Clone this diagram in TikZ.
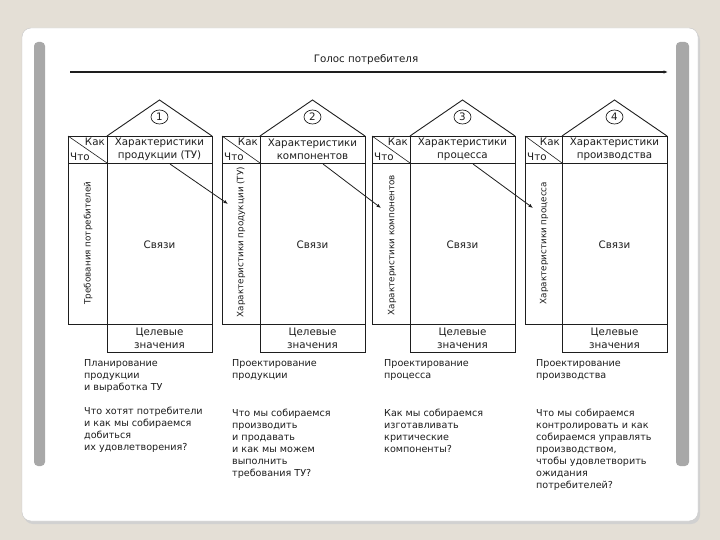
\documentclass[tikz,border=0pt]{standalone}
\usepackage{fontspec}
\setmainfont{DejaVu Sans}
\usetikzlibrary{arrows.meta}

\definecolor{slidebg}{RGB}{228,223,214}
\definecolor{barGray}{RGB}{168,168,168}
\definecolor{ink}{RGB}{30,30,30}

\tikzset{
  wall/.style={draw=ink, line width=0.9pt},
  lbl/.style={font=\fontsize{10.3}{12.8}\selectfont, text=ink, inner sep=0pt, align=center},
  vlbl/.style={lbl, font=\fontsize{8.8}{11}\selectfont, rotate=90},
  note/.style={font=\fontsize{9.6}{12}\selectfont, text=ink, inner sep=0pt, align=left, anchor=north west},
  flow/.style={draw=ink, line width=0.8pt, -{Latex[length=4.5pt,width=3.5pt]}}
}

\begin{document}
\begin{tikzpicture}[x=1pt,y=-1pt]

   % slide
   \fill [slidebg] (0,0) rectangle (720,540);
   \useasboundingbox (0,0) rectangle (720,540);
   \fill [black!18, rounded corners=9pt] (24,31) rectangle (700,524);
   \draw [black!22, fill=white, rounded corners=9pt] (22,28) rectangle (698,521);
   \fill [barGray, rounded corners=4pt] (34,42) rectangle (45,466);
   \fill [barGray, rounded corners=4pt] (676,42) rectangle (689,466);

   % voice of the customer
   \node [lbl] (voice) at (366,60) {Голос потребителя};
   \coordinate (vstart) at (70,72);
   \coordinate (vend) at (668,72);
   \draw [flow, line width=1.1pt] (vstart) -- (vend);

   % house 1
   \draw [wall] (68,136) rectangle (107,324);
   \draw [wall] (107,136) rectangle (212,324);
   \draw [wall] (107,324) rectangle (212,352);
   \draw [wall] (107,136) -- (159.5,100) -- (212,136);
   \draw [wall] (68,163) -- (212,163);
   \draw [ink, line width=0.6pt] (68,136) -- (107,163);
   \draw [ink, line width=0.7pt] (159.5,117) ellipse (8.5 and 7);
   \node [lbl] (num1) at (159.5,117) {1};
   \node [lbl, anchor=north east] (how1) at (105,138) {Как};
   \node [lbl, anchor=south west] (what1) at (70,161) {Что};
   \node [lbl] (hd1) at (159.5,149.5) {Характеристики\\продукции (ТУ)};
   \node [vlbl] (vt1) at (88,243) {Требования потребителей};
   \node [lbl] (rel1) at (159.5,245) {Связи};
   \node [lbl] (tgt1) at (159.5,338) {Целевые\\значения};

   % house 2
   \draw [wall] (222,136) rectangle (260,324);
   \draw [wall] (260,136) rectangle (365,324);
   \draw [wall] (260,324) rectangle (365,352);
   \draw [wall] (260,136) -- (312.5,100) -- (365,136);
   \draw [wall] (222,163) -- (365,163);
   \draw [ink, line width=0.6pt] (222,136) -- (260,163);
   \draw [ink, line width=0.7pt] (312.5,117) ellipse (8.5 and 7);
   \node [lbl] (num2) at (312.5,117) {2};
   \node [lbl, anchor=north east] (how2) at (258,138) {Как};
   \node [lbl, anchor=south west] (what2) at (224,161) {Что};
   \node [lbl] (hd2) at (312.5,149.5) {Характеристики\\компонентов};
   \node [vlbl] (vt2) at (241,242) {Характеристики продукции (ТУ)};
   \node [lbl] (rel2) at (312.5,245) {Связи};
   \node [lbl] (tgt2) at (312.5,338) {Целевые\\значения};

   % house 3
   \draw [wall] (372,136) rectangle (410,324);
   \draw [wall] (410,136) rectangle (515,324);
   \draw [wall] (410,324) rectangle (515,352);
   \draw [wall] (410,136) -- (462.5,100) -- (515,136);
   \draw [wall] (372,163) -- (515,163);
   \draw [ink, line width=0.6pt] (372,136) -- (410,163);
   \draw [ink, line width=0.7pt] (462.5,117) ellipse (8.5 and 7);
   \node [lbl] (num3) at (462.5,117) {3};
   \node [lbl, anchor=north east] (how3) at (408,138) {Как};
   \node [lbl, anchor=south west] (what3) at (374,161) {Что};
   \node [lbl] (hd3) at (462.5,149.5) {Характеристики\\процесса};
   \node [vlbl] (vt3) at (392,245) {Характеристики компонентов};
   \node [lbl] (rel3) at (462.5,245) {Связи};
   \node [lbl] (tgt3) at (462.5,338) {Целевые\\значения};

   % house 4
   \draw [wall] (525,136) rectangle (562,324);
   \draw [wall] (562,136) rectangle (667,324);
   \draw [wall] (562,324) rectangle (667,352);
   \draw [wall] (562,136) -- (614.5,100) -- (667,136);
   \draw [wall] (525,163) -- (667,163);
   \draw [ink, line width=0.6pt] (525,136) -- (562,163);
   \draw [ink, line width=0.7pt] (614.5,117) ellipse (8.5 and 7);
   \node [lbl] (num4) at (614.5,117) {4};
   \node [lbl, anchor=north east] (how4) at (560,138) {Как};
   \node [lbl, anchor=south west] (what4) at (527,161) {Что};
   \node [lbl] (hd4) at (614.5,149.5) {Характеристики\\производства};
   \node [vlbl] (vt4) at (544,243) {Характеристики процесса};
   \node [lbl] (rel4) at (614.5,245) {Связи};
   \node [lbl] (tgt4) at (614.5,338) {Целевые\\значения};

   % cascade arrows
   \coordinate (a1s) at (170,164);
   \coordinate (a1e) at (228,204);
   \coordinate (a2s) at (323,164);
   \coordinate (a2e) at (381,208);
   \coordinate (a3s) at (473,164);
   \coordinate (a3e) at (533,208);
   \draw [flow] (a1s) -- (a1e);
   \draw [flow] (a2s) -- (a2e);
   \draw [flow] (a3s) -- (a3e);

   % phase notes
   \node [note] (ph1) at (84,359) {Планирование\\продукции\\и выработка ТУ};
   \node [note] (q1) at (84,407) {Что хотят потребители\\и как мы собираемся\\добиться\\их удовлетворения?};
   \node [note] (ph2) at (232,359) {Проектирование\\продукции};
   \node [note] (q2) at (232,409) {Что мы собираемся\\производить\\и продавать\\и как мы можем\\выполнить\\требования ТУ?};
   \node [note] (ph3) at (384,359) {Проектирование\\процесса};
   \node [note] (q3) at (384,409) {Как мы собираемся\\изготавливать\\критические\\компоненты?};
   \node [note] (ph4) at (536,359) {Проектирование\\производства};
   \node [note] (q4) at (536,409) {Что мы собираемся\\контролировать и как\\собираемся управлять\\производством,\\чтобы удовлетворить\\ожидания\\потребителей?};

\end{tikzpicture}
\end{document}
